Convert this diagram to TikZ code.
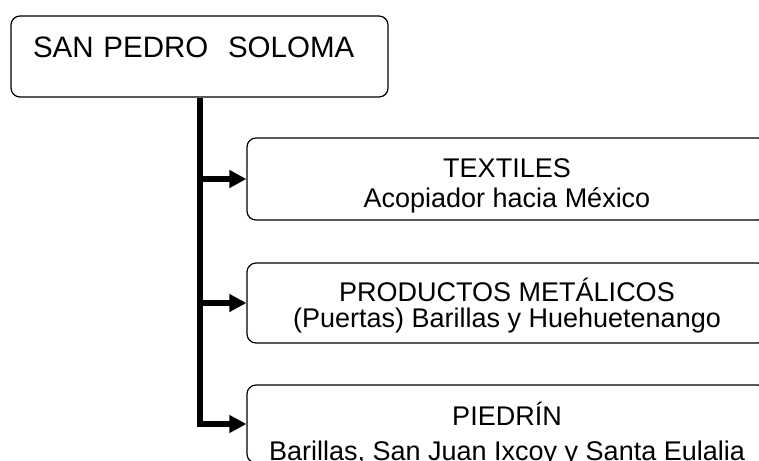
\documentclass[tikz,border=0pt]{standalone}
\usepackage{fontspec}
\setmainfont{Liberation Sans}
\usetikzlibrary{arrows.meta}

\begin{document}
\begin{tikzpicture}[
    x=1pt, y=-1pt,
    box/.style = {draw, line width=1.2pt, rounded corners=9pt, minimum width=520pt, inner sep=0pt},
    txt/.style = {inner sep=0pt, align=center, font=\fontsize{27}{30}\selectfont},
    trunk/.style = {line width=6pt},
    > = {Triangle[length=17pt, width=17pt]}
]
\clip (0,0) rectangle (759,460);
\node (soloma) [draw, line width=1.2pt, rounded corners=9pt, inner xsep=22pt, inner ysep=0pt, text width=333pt, align=left, text height=41pt, text depth=40pt, font=\fontsize{29.5}{32}\selectfont] at (199.5,56.5) {SAN PEDRO\ \ SOLOMA};

\node (textiles) [box, minimum height=82pt] at (507,179) {};
\node (metal) [box, minimum height=80pt] at (507,303) {};
\node (piedrin) [box, minimum height=78pt] at (507,424) {};

\node (textilestxt) [txt] at ([yshift=-7pt]textiles.center) {TEXTILES\\Acopiador hacia México};
\node (metaltxt) [txt, font=\fontsize{27}{26}\selectfont] at ([yshift=-3pt]metal.center) {PRODUCTOS METÁLICOS\\(Puertas) Barillas y Huehuetenango};
\node (piedrintxt) [txt, font=\fontsize{27}{35}\selectfont] at ([yshift=-10pt]piedrin.center) {PIEDRÍN\\Barillas, San Juan Ixcoy y Santa Eulalia};

\draw[trunk, ->] (soloma.south) |- (piedrin.west);
\draw[trunk, ->] (soloma.south |- textiles.west) -- (textiles.west);
\draw[trunk, ->] (soloma.south |- metal.west) -- (metal.west);
\end{tikzpicture}
\end{document}
